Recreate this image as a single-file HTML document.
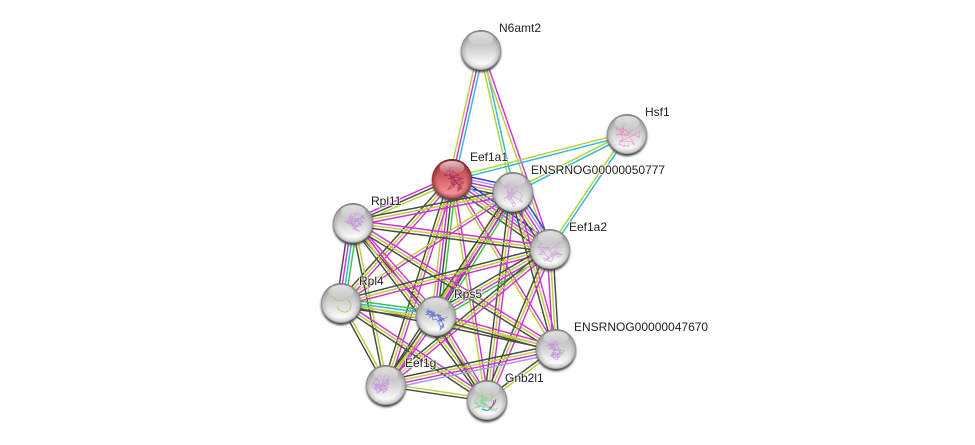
<!DOCTYPE html>
<html><head><meta charset="utf-8">
<style>
html,body{margin:0;padding:0;background:#fff;width:975px;height:445px;overflow:hidden}
svg{display:block}
text{font-family:"Liberation Sans",Arial,sans-serif;font-size:12px;fill:#222;paint-order:stroke;stroke:#fff;stroke-width:2px;stroke-opacity:.7}
</style></head><body>
<svg id="s" width="975" height="445" viewBox="0 0 975 445" xmlns="http://www.w3.org/2000/svg">
<defs>
<linearGradient id="g" x1="0" y1="0" x2="0" y2="1"><stop offset="0" stop-color="#a8a8a8"/><stop offset=".45" stop-color="#cfcfcf"/><stop offset=".85" stop-color="#fafafa"/><stop offset="1" stop-color="#eeeeee"/></linearGradient>
<linearGradient id="r" x1="0" y1="0" x2="0" y2="1"><stop offset="0" stop-color="#a83a40"/><stop offset=".45" stop-color="#d05f65"/><stop offset=".85" stop-color="#f59298"/><stop offset="1" stop-color="#e08287"/></linearGradient>
<radialGradient id="rim" cx="50%" cy="50%" r="50%"><stop offset="0" stop-color="#555" stop-opacity="0"/><stop offset=".72" stop-color="#555" stop-opacity="0"/><stop offset=".92" stop-color="#555" stop-opacity=".22"/><stop offset="1" stop-color="#444" stop-opacity=".55"/></radialGradient>
<radialGradient id="rimr" cx="50%" cy="50%" r="50%"><stop offset="0" stop-color="#601015" stop-opacity="0"/><stop offset=".72" stop-color="#601015" stop-opacity="0"/><stop offset=".92" stop-color="#601015" stop-opacity=".35"/><stop offset="1" stop-color="#601015" stop-opacity=".75"/></radialGradient>
<linearGradient id="h" x1="0" y1="0" x2="0" y2="1"><stop offset="0" stop-color="#fff" stop-opacity=".7"/><stop offset="1" stop-color="#fff" stop-opacity=".05"/></linearGradient>
<filter id="b" x="-30%" y="-30%" width="160%" height="160%"><feGaussianBlur stdDeviation="1.1"/></filter>
</defs>
<g id="edges" fill="none" stroke-width="1.45"></g>
<g id="nodes"></g>
<text x="499" y="32">N6amt2</text>
<text x="645" y="116">Hsf1</text>
<text x="470" y="161">Eef1a1</text>
<text x="531" y="174">ENSRNOG00000050777</text>
<text x="371" y="205">Rpl11</text>
<text x="569" y="231">Eef1a2</text>
<text x="359" y="285">Rpl4</text>
<text x="454" y="298">Rps5</text>
<text x="574" y="331">ENSRNOG00000047670</text>
<text x="405" y="367">Eef1g</text>
<text x="505" y="382">Gnb2l1</text>
</svg>
<script>
var N={n:[481,50],h:[627,134],a:[452,179],e:[513,192],l:[353,223],b:[550,249],f:[341,303],p:[436,316],k:[556,349],g:[386,385],q:[487,400]};
var C={c:"#2fb9dd",m:"#d52fd5",y:"#b6d233",k:"#484848",G:"#35c845",B:"#2f2ff0",L:"#9c9cf5"};
var E=[["n","a","cmy"],["n","e","cy"],["n","b","my"],["h","a","cy"],["h","e","cy"],["h","b","cy"],
["a","e","BLmyk"],["a","b","BLmyk"],["e","b","BLmyk"],["a","l","ykm"],["a","f","myk"],["a","p","Gkmy"],["a","k","my"],["a","g","myk"],["a","q","my"],
["e","l","myk"],["e","f","my"],["e","p","Gkmy"],["e","k","myk"],["e","g","myk"],["e","q","myk"],
["l","b","myk"],["l","f","Gcmk"],["l","p","myk"],["l","k","myk"],["l","g","yk"],["l","q","myk"],
["b","f","myk"],["b","p","Gmyk"],["b","k","kym"],["b","g","myk"],["b","q","myk"],
["f","p","Gcyk"],["f","k","yk"],["f","g","yk"],["f","q","myk"],
["p","k","myk"],["p","g","myk"],["p","q","myk"],
["k","g","Lmyk"],["k","q","yk"],["g","q","yk"]];
var ns="http://www.w3.org/2000/svg",eg=document.getElementById("edges"),ng=document.getElementById("nodes");
function el(p,t,o){var e=document.createElementNS(ns,t);for(var k in o)e.setAttribute(k,o[k]);p.appendChild(e);return e}
E.forEach(function(d){var A=N[d[0]],B=N[d[1]],dx=B[0]-A[0],dy=B[1]-A[1],L=Math.hypot(dx,dy),ox=-dy/L,oy=dx/L,n=d[2].length;
for(var i=0;i<n;i++){var t=(i-(n-1)/2)*2.9;el(eg,"line",{x1:A[0]+ox*t,y1:A[1]+oy*t,x2:B[0]+ox*t,y2:B[1]+oy*t,stroke:C[d[2][i]]})}});
var S={h:["#e58ab8",45],a:["#9a2a55",60],e:["#c4a2d8",60],l:["#c08be0",60],b:["#c9a0d8",55],p:["#4a5fd0",55],k:["#c48be0",75],g:["#c48be0",75],q:["#7fd09a",55]};
var seed=11;function R(){seed=(seed*16807)%2147483647;return seed/2147483647}
Object.keys(N).forEach(function(k){var x=N[k][0],y=N[k][1],r=20;
el(ng,"circle",{cx:x,cy:y+2.2,r:r,fill:"#444",filter:"url(#b)"});
el(ng,"circle",{cx:x,cy:y,r:r,fill:k=="a"?"url(#r)":"url(#g)"});
if(S[k]){var px=x,py=y+1,dd="M"+px+" "+py;
for(var i=0;i<S[k][1];i++){px+=(R()-.5)*11;py+=(R()-.5)*9;
if(Math.hypot(px-x,py-y-1)>14){px=x+(R()-.5)*14;py=y+1+(R()-.5)*12}
dd+="L"+px.toFixed(1)+" "+py.toFixed(1)}
el(ng,"path",{d:dd,fill:"none",stroke:S[k][0],"stroke-width":.7,opacity:.8});
if(k=="q"){el(ng,"path",{d:"M"+(x-5)+" "+(y+9)+"q10 5 12 -9",fill:"none",stroke:"#3a7fd0","stroke-width":1});el(ng,"path",{d:"M"+(x+2)+" "+(y+8)+"q6 -2 7 -9",fill:"none",stroke:"#e0506a","stroke-width":1});el(ng,"path",{d:"M"+(x-9)+" "+(y-4)+"q8 -5 14 4",fill:"none",stroke:"#d8d060","stroke-width":1})}
} else if(k=="f"){el(ng,"path",{d:"M"+(x-11)+" "+(y-10)+"c5 5 5 8 10 8s4 -4 8 -1s4 8 0 11s-10 -1 -11 -5",fill:"none",stroke:"#bdc25c","stroke-width":.8})}
el(ng,"circle",{cx:x,cy:y,r:r,fill:k=="a"?"url(#rimr)":"url(#rim)"});
el(ng,"ellipse",{cx:x,cy:y-11.5,rx:12.5,ry:6.5,fill:"url(#h)"});
});
</script>
</body></html>
